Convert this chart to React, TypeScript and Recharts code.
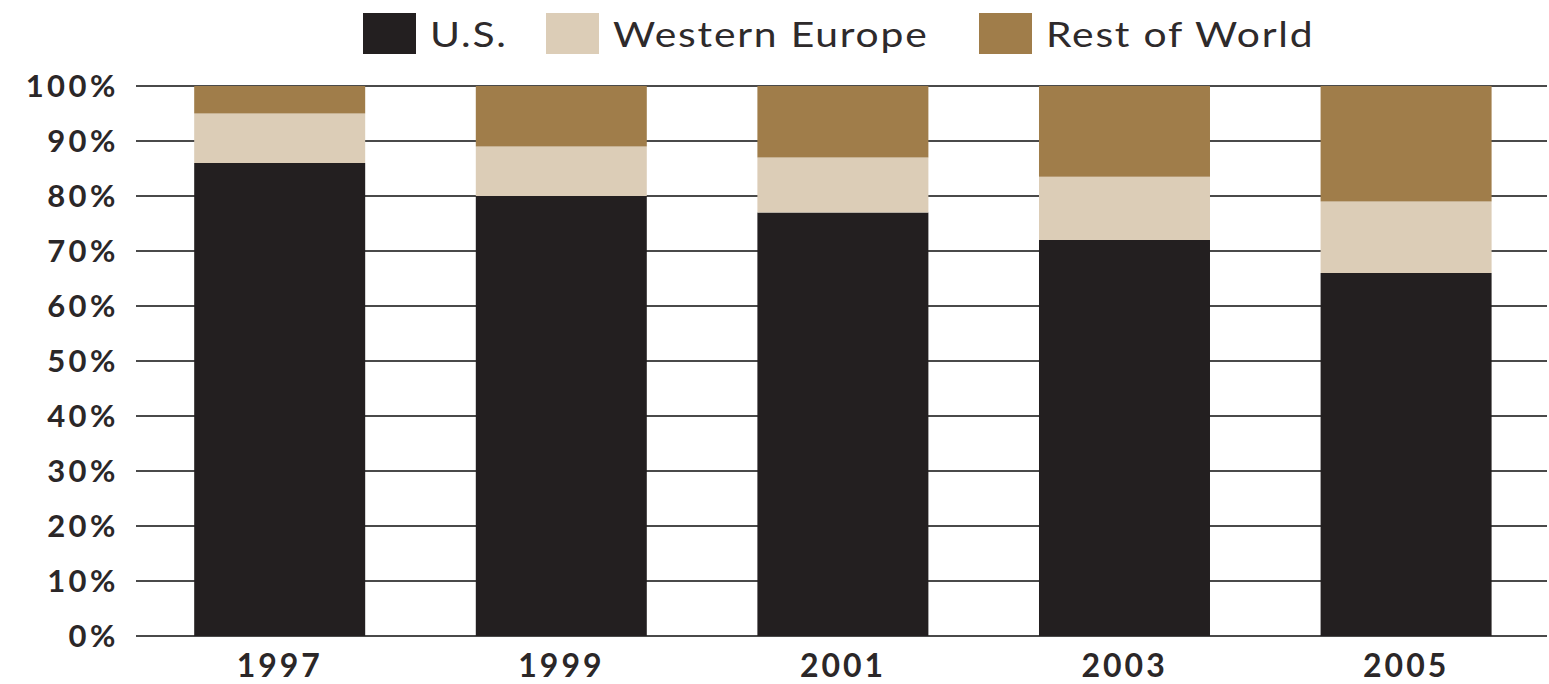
import React from "react";
import { BarChart, Bar, XAxis, YAxis, CartesianGrid, Legend } from "recharts";

const years = ["1997", "1999", "2001", "2003", "2005"];
const usShare = [86, 80, 77, 72, 66];
const westernEuropeShare = [9, 9, 10, 11.5, 13];
const restOfWorldShare = [5, 11, 13, 16.5, 21];
const yTicks = [0, 10, 20, 30, 40, 50, 60, 70, 80, 90, 100];

const seriesNames = ["U.S.", "Western Europe", "Rest of World"];
const seriesKeys = ["us", "we", "row"];
const seriesColors = ["#231f20", "#dccdb7", "#a07d4a"];

const data = years.map((y, i) => ({
  year: y,
  us: usShare[i],
  we: westernEuropeShare[i],
  row: restOfWorldShare[i],
}));

const FONT = "Lato, 'DejaVu Sans', sans-serif";
const TEXT = "#2b2728";
const legendLeft = [363, 546, 979];

const LegendContent = () => (
  <div style={{ position: "relative", height: 70, width: 1549, fontFamily: FONT }}>
    {seriesNames.map((n, i) => (
      <div key={n} style={{ position: "absolute", left: legendLeft[i], top: 13, height: 41, display: "flex", alignItems: "center" }}>
        <div style={{ width: 53, height: 41, background: seriesColors[i], marginRight: 14, flex: "none" }} />
        <span
          style={{
            fontSize: 34,
            color: "#2e2a2b",
            letterSpacing: 1.5,
            lineHeight: "41px",
            whiteSpace: "nowrap",
            display: "inline-block",
            transform: "scaleX(1.2)",
            transformOrigin: "left center",
          }}
        >
          {n}
        </span>
      </div>
    ))}
  </div>
);

export default function App() {
  return (
    <div style={{ position: "absolute", left: 0, top: 0, background: "#fff" }}>
      <BarChart
        width={1549}
        height={684}
        data={data}
        margin={{ top: 16, right: 2, bottom: 0, left: 0 }}
        barCategoryGap="19.6%"
      >
        <CartesianGrid vertical={false} stroke="#4a4a4a" strokeWidth={2} />
        <XAxis
          dataKey="year"
          axisLine={false}
          tickLine={false}
          tickSize={0}
          tickMargin={18}
          height={48}
          padding={{ left: 3, right: 0 }}
          tick={{ fontSize: 32, fontWeight: 700, fill: TEXT, fontFamily: FONT, letterSpacing: 3 }}
        />
        <YAxis
          domain={[0, 100]}
          ticks={yTicks}
          tickFormatter={(v) => `${v}%`}
          axisLine={false}
          tickLine={false}
          tickSize={0}
          tickMargin={17}
          width={136}
          tick={{ fontSize: 31, fontWeight: 700, fill: TEXT, fontFamily: FONT, letterSpacing: 3.5 }}
        />
        <Legend verticalAlign="top" align="center" content={<LegendContent />} wrapperStyle={{ left: 0, top: 0, width: 1549 }} />
        {seriesKeys.map((k, i) => (
          <Bar key={k} dataKey={k} name={seriesNames[i]} stackId="a" fill={seriesColors[i]} isAnimationActive={false} />
        ))}
      </BarChart>
    </div>
  );
}
